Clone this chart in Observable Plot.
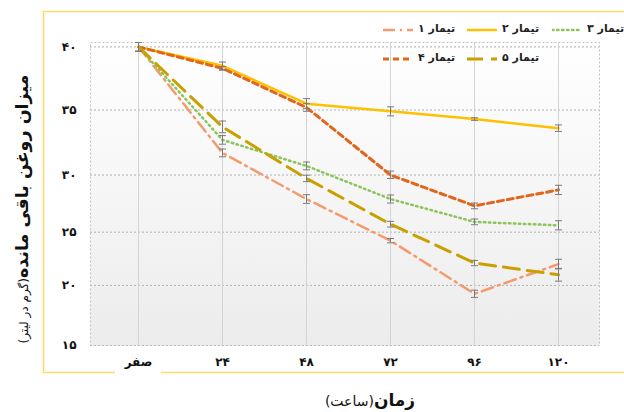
<!DOCTYPE html>
<html>
<head>
<meta charset="utf-8">
<script src="https://cdn.jsdelivr.net/npm/d3@7"></script>
<script src="https://cdn.jsdelivr.net/npm/@observablehq/plot@0.6"></script>
<style>
  html, body { margin: 0; padding: 0; background: #fff; }
  body { font-family: "DejaVu Sans", sans-serif; }
  #wrap { position: relative; width: 624px; height: 412px; overflow: hidden; }
  .legs { position: absolute; }
  .legt { position: absolute; font-size: 11px; font-weight: bold; color: #222; white-space: nowrap; line-height: 14px; }
</style>
</head>
<body>
<div id="wrap"></div>
<script>
// ---- data ----
const times = [0, 24, 48, 72, 96, 120];
const timeLabels = ["صفر", "۲۴", "۴۸", "۷۲", "۹۶", "۱۲۰"];
const yTicks = [15, 20, 25, 30, 35, 40];
const yTickLabels = ["۱۵", "۲۰", "۲۵", "۳۰", "۳۵", "۴۰"];
const seriesNames = ["تیمار ۱", "تیمار ۲", "تیمار ۳", "تیمار ۴", "تیمار ۵"];
const t1 = [40, 31.7, 27.9, 24.2, 19.3, 22.0];
const t2 = [40, 38.5, 35.5, 34.9, 34.3, 33.6];
const t3 = [40, 32.7, 30.7, 27.9, 25.9, 25.6];
const t4 = [40, 38.3, 35.2, 30.0, 27.3, 28.7];
const t5 = [40, 33.7, 29.7, 25.7, 22.1, 21.0];
const e1 = [0.35, 0.3, 0.38, 0.2, 0.3, 0.45];
const e2 = [0.35, 0.3, 0.4, 0.35, 0.1, 0.25];
const e3 = [0.35, 0.33, 0.3, 0.35, 0.25, 0.4];
const e4 = [0.35, 0.15, 0.3, 0.3, 0.25, 0.4];
const e5 = [0.35, 0.45, 0.28, 0.25, 0.25, 0.6];

const seriesValues = [t1, t2, t3, t4, t5];
const seriesErrors = [e1, e2, e3, e4, e5];
const styles = [
  {stroke: "#f59a6e", strokeWidth: 2.5, strokeDasharray: "12,5,2,5"},
  {stroke: "#ffc000", strokeWidth: 2.5, strokeDasharray: null},
  {stroke: "#8cc45a", strokeWidth: 2.5, strokeDasharray: "1.5,3.5", strokeLinecap: "round"},
  {stroke: "#e0661c", strokeWidth: 3, strokeDasharray: "6,4"},
  {stroke: "#c9a000", strokeWidth: 3, strokeDasharray: "16,8"}
];

const rows = [];
seriesNames.forEach((name, i) => {
  times.forEach((t, j) => rows.push({series: name, t, v: seriesValues[i][j], e: seriesErrors[i][j]}));
});
const caps = rows.flatMap(d => [{t: d.t, y: d.v - d.e}, {t: d.t, y: d.v + d.e}]);

// the reference's value axis is unevenly spaced between its gridlines
const yWarp = d3.scaleLinear().domain(yTicks).range([0, 61, 115, 173, 239, 303]);

const capSymbol = {
  draw(context, size) {
    const r = Math.sqrt(size / Math.PI);
    context.moveTo(-r, 0);
    context.lineTo(r, 0);
  }
};

const lineMarks = seriesNames.map((name, i) => {
  const s = styles[i];
  const opts = {x: "t", y: "v", stroke: s.stroke, strokeWidth: s.strokeWidth};
  if (s.strokeDasharray) opts.strokeDasharray = s.strokeDasharray;
  if (s.strokeLinecap) opts.strokeLinecap = s.strokeLinecap;
  return Plot.line(rows.filter(d => d.series === name), opts);
});

const chart = Plot.plot({
  width: 624,
  height: 412,
  marginLeft: 90,
  marginRight: 25,
  marginTop: 42,
  marginBottom: 67,
  style: {fontFamily: "DejaVu Sans, sans-serif", background: "transparent"},
  x: {type: "point", domain: times, range: [138, 558], padding: 0},
  y: {transform: yWarp},
  marks: [
    Plot.frame({fill: "url(#plotbg)"}),
    Plot.gridY(yTicks, {stroke: "#b0b0b0", strokeOpacity: 1, strokeDasharray: "2,2"}),
    Plot.gridX(times, {stroke: "#d4d4d4", strokeOpacity: 1}),
    Plot.frame({stroke: "#c0c0c0", strokeDasharray: "2,2"}),
    ...lineMarks,
    Plot.ruleX(rows, {x: "t", y1: d => d.v - d.e, y2: d => d.v + d.e, stroke: "#7a7a7a", strokeWidth: 1}),
    Plot.dot(caps, {x: "t", y: "y", symbol: capSymbol, r: 3.5, stroke: "#7a7a7a", strokeWidth: 1}),
    Plot.axisY(yTicks, {tickSize: 0, tickPadding: 14, label: null, fontSize: 12, fontWeight: "bold", fill: "#111",
      tickFormat: d => yTickLabels[yTicks.indexOf(d)]}),
    Plot.axisX(times, {tickSize: 0, tickPadding: 12, label: null, fontSize: 12, fontWeight: "bold", fill: "#111",
      tickFormat: d => timeLabels[times.indexOf(d)]})
  ]
});

const svg = d3.select(chart);
const defs = svg.insert("defs", ":first-child");
const grad = defs.append("linearGradient").attr("id", "plotbg").attr("x1", 0).attr("y1", 0).attr("x2", 0).attr("y2", 1);
grad.append("stop").attr("offset", "0%").attr("stop-color", "#ffffff");
grad.append("stop").attr("offset", "100%").attr("stop-color", "#ececec");

// outer gold chart border, with the white gap under the first tick label
svg.insert("rect", ":first-child")
  .attr("x", 115).attr("y", 369).attr("width", 46).attr("height", 8).attr("fill", "#fff");
svg.insert("rect", ":first-child")
  .attr("x", 43.5).attr("y", 11.5).attr("width", 640).attr("height", 361)
  .attr("fill", "none").attr("stroke", "#ffd966").attr("stroke-width", 1.5);

// axis titles
const yt = svg.append("text")
  .attr("transform", "translate(28,209) rotate(-90)")
  .attr("text-anchor", "middle").attr("direction", "rtl").attr("fill", "#111");
yt.append("tspan").attr("font-size", 17.5).attr("font-weight", "bold").text("میزان روغن باقی مانده");
yt.append("tspan").attr("font-size", 12).text("(گرم در لیتر)");

const xt = svg.append("text")
  .attr("x", 370).attr("y", 406)
  .attr("text-anchor", "middle").attr("direction", "rtl").attr("fill", "#111");
xt.append("tspan").attr("font-size", 17).attr("font-weight", "bold").text("زمان");
xt.append("tspan").attr("font-size", 14).text("(ساعت)");

const wrap = document.getElementById("wrap");
wrap.appendChild(chart);

// legend
const legendPos = [
  {left: 383, top: 30}, {left: 467, top: 30}, {left: 552, top: 30},
  {left: 383, top: 59}, {left: 467, top: 59}
];
seriesNames.forEach((name, i) => {
  const s = styles[i];
  const w = 30;
  const sample = document.createElement("div");
  sample.className = "legs";
  sample.style.left = legendPos[i].left + "px";
  sample.style.top = (legendPos[i].top - 7) + "px";
  sample.innerHTML = `<svg width="${w}" height="14" style="display:block"><line x1="0" y1="7" x2="${w}" y2="7" stroke="${s.stroke}" stroke-width="${s.strokeWidth}" ${s.strokeDasharray ? `stroke-dasharray="${s.strokeDasharray}"` : ""} ${s.strokeLinecap ? `stroke-linecap="${s.strokeLinecap}"` : ""}/></svg>`;
  wrap.appendChild(sample);
  const label = document.createElement("div");
  label.className = "legt";
  label.style.left = (legendPos[i].left + w + 5) + "px";
  label.style.top = (legendPos[i].top - 8) + "px";
  label.dir = "rtl";
  label.textContent = name;
  wrap.appendChild(label);
});
</script>
</body>
</html>
